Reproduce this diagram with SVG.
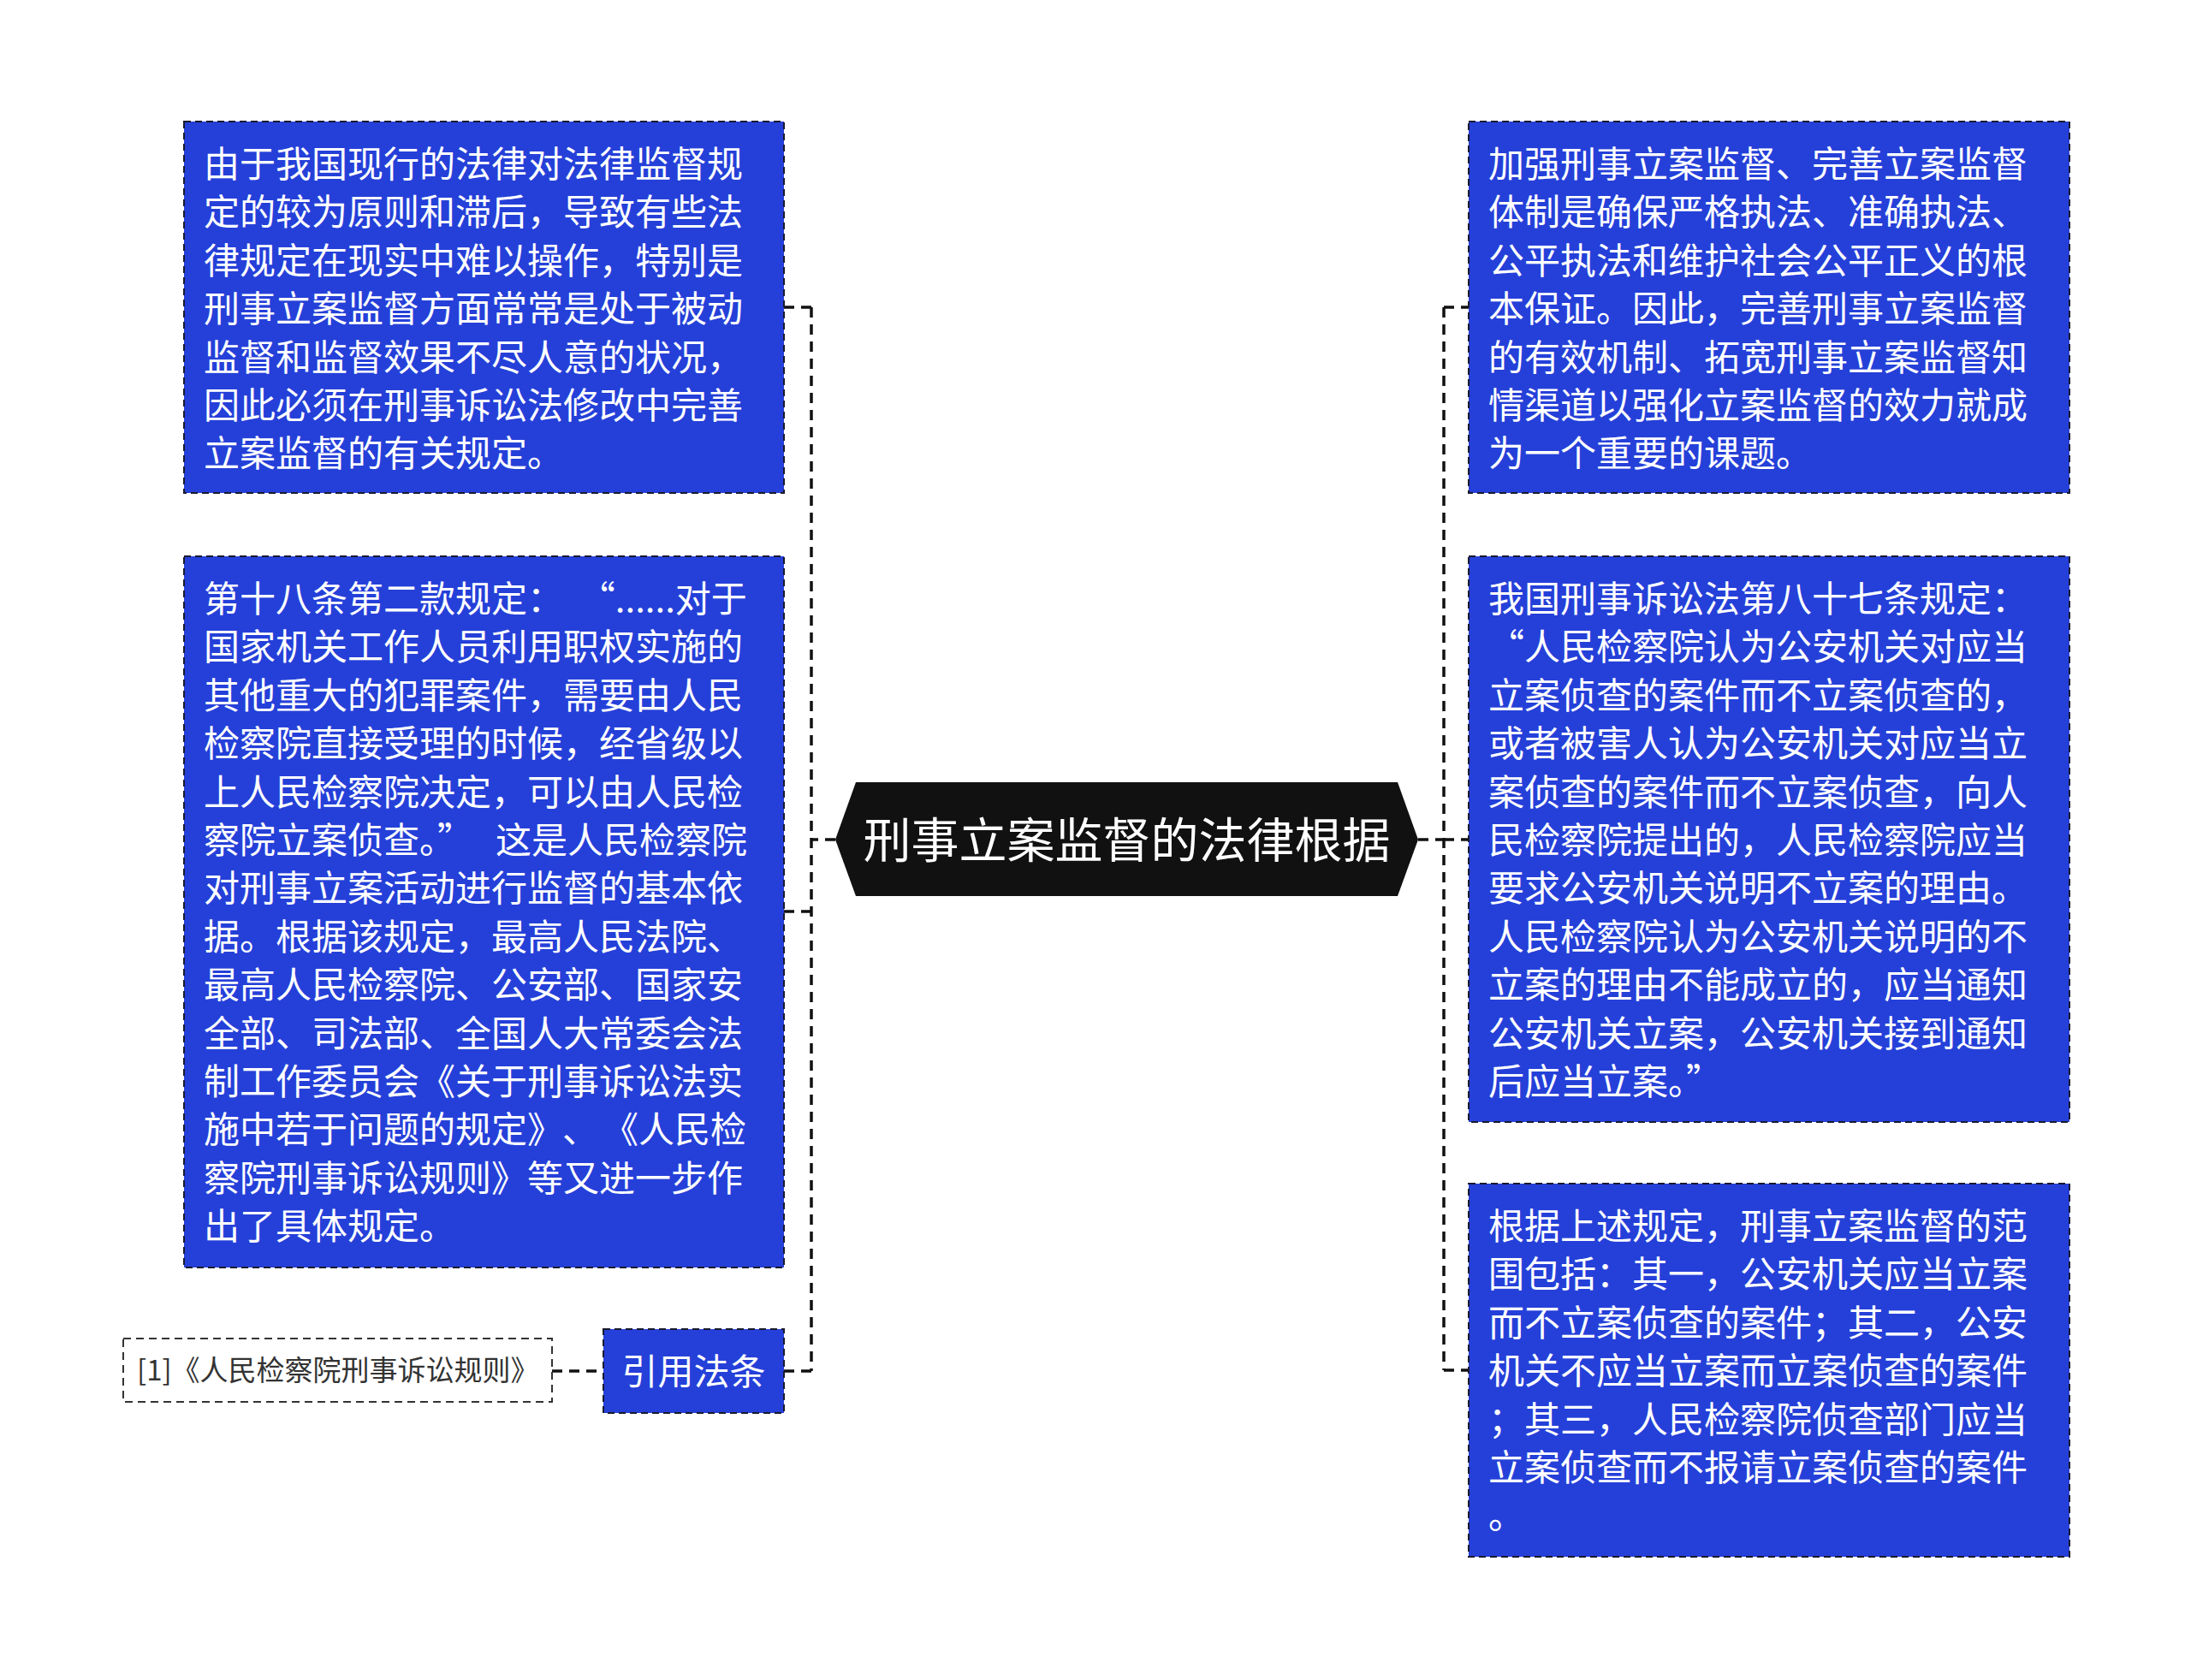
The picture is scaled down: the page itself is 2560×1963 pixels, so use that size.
<svg xmlns="http://www.w3.org/2000/svg" width="2560" height="1963" viewBox="0 0 2560 1963">
<style>
.box{fill:#2540d9;stroke:#1a1a2e;stroke-width:2;stroke-dasharray:8,5}
.plain{fill:#ffffff;stroke:#333333;stroke-width:2;stroke-dasharray:9,6}
.t{font-family:"Noto Sans CJK SC","Noto Sans",sans-serif;font-size:42px;fill:#ffffff}
.conn{fill:none;stroke:#111111;stroke-width:3.5;stroke-dasharray:12,8}
</style>
<rect width="2560" height="1963" fill="#ffffff"/>
<g id="connectors">
<path class="conn" d="M976,981 H948 M948,359 V1602 M916,359 H948 M916,1065 H948 M916,1602 H948"/>
<path class="conn" d="M1657,981 H1687 M1687,359 V1601 M1687,359 H1716 M1687,981 H1716 M1687,1601 H1716"/>
<path class="conn" d="M645,1602 H705"/>
</g>
<g id="center">
<polygon points="976,981 1000,914 1633,914 1657,981 1633,1047 1000,1047" fill="#111111"/>
<text x="1316.5" y="1002" text-anchor="middle" font-family="Noto Sans CJK SC, sans-serif" font-size="56" fill="#ffffff">刑事立案监督的法律根据</text>
</g>
<g id="left1">
<rect class="box" x="215" y="142" width="701" height="434"/>
<text class="t" x="238" y="207">
<tspan x="238" dy="0">由于我国现行的法律对法律监督规</tspan>
<tspan x="238" dy="56.4">定的较为原则和滞后，导致有些法</tspan>
<tspan x="238" dy="56.4">律规定在现实中难以操作，特别是</tspan>
<tspan x="238" dy="56.4">刑事立案监督方面常常是处于被动</tspan>
<tspan x="238" dy="56.4">监督和监督效果不尽人意的状况，</tspan>
<tspan x="238" dy="56.4">因此必须在刑事诉讼法修改中完善</tspan>
<tspan x="238" dy="56.4">立案监督的有关规定。</tspan>
</text>
</g>
<g id="left2">
<rect class="box" x="215" y="650" width="701" height="831"/>
<text class="t" x="238" y="715" xml:space="preserve"><tspan x="238" dy="0">第十八条第二款规定：  “......对于</tspan><tspan x="238" dy="56.4">国家机关工作人员利用职权实施的</tspan><tspan x="238" dy="56.4">其他重大的犯罪案件，需要由人民</tspan><tspan x="238" dy="56.4">检察院直接受理的时候，经省级以</tspan><tspan x="238" dy="56.4">上人民检察院决定，可以由人民检</tspan><tspan x="238" dy="56.4">察院立案侦查。”</tspan><tspan dx="26">这是人民检察院</tspan><tspan x="238" dy="56.4">对刑事立案活动进行监督的基本依</tspan><tspan x="238" dy="56.4">据。根据该规定，最高人民法院、</tspan><tspan x="238" dy="56.4">最高人民检察院、公安部、国家安</tspan><tspan x="238" dy="56.4">全部、司法部、全国人大常委会法</tspan><tspan x="238" dy="56.4">制工作委员会《关于刑事诉讼法实</tspan><tspan x="238" dy="56.4">施中若于问题的规定》</tspan><tspan dx="20">、</tspan><tspan dx="26">《人民检</tspan><tspan x="238" dy="56.4">察院刑事诉讼规则》等又进一步作</tspan><tspan x="238" dy="56.4">出了具体规定。</tspan></text>
</g>
<g id="cite">
<rect class="box" x="705" y="1553" width="211" height="98"/>
<text class="t" x="810.5" y="1618" text-anchor="middle">引用法条</text>
</g>
<g id="ref1">
<rect class="plain" x="144" y="1564" width="501" height="74"/>
<text x="160" y="1613" font-family="Noto Sans CJK SC, sans-serif" font-size="33" fill="#333333">[1]《人民检察院刑事诉讼规则》</text>
</g>
<g id="right1">
<rect class="box" x="1716" y="142" width="702" height="434"/>
<text class="t" x="1739" y="207">
<tspan x="1739" dy="0">加强刑事立案监督、完善立案监督</tspan>
<tspan x="1739" dy="56.4">体制是确保严格执法、准确执法、</tspan>
<tspan x="1739" dy="56.4">公平执法和维护社会公平正义的根</tspan>
<tspan x="1739" dy="56.4">本保证。因此，完善刑事立案监督</tspan>
<tspan x="1739" dy="56.4">的有效机制、拓宽刑事立案监督知</tspan>
<tspan x="1739" dy="56.4">情渠道以强化立案监督的效力就成</tspan>
<tspan x="1739" dy="56.4">为一个重要的课题。</tspan>
</text>
</g>
<g id="right2">
<rect class="box" x="1716" y="650" width="702" height="661"/>
<text class="t" x="1739" y="715">
<tspan x="1739" dy="0">我国刑事诉讼法第八十七条规定：</tspan>
<tspan x="1739" dy="56.4">“人民检察院认为公安机关对应当</tspan>
<tspan x="1739" dy="56.4">立案侦查的案件而不立案侦查的，</tspan>
<tspan x="1739" dy="56.4">或者被害人认为公安机关对应当立</tspan>
<tspan x="1739" dy="56.4">案侦查的案件而不立案侦查，向人</tspan>
<tspan x="1739" dy="56.4">民检察院提出的，人民检察院应当</tspan>
<tspan x="1739" dy="56.4">要求公安机关说明不立案的理由。</tspan>
<tspan x="1739" dy="56.4">人民检察院认为公安机关说明的不</tspan>
<tspan x="1739" dy="56.4">立案的理由不能成立的，应当通知</tspan>
<tspan x="1739" dy="56.4">公安机关立案，公安机关接到通知</tspan>
<tspan x="1739" dy="56.4">后应当立案。”</tspan>
</text>
</g>
<g id="right3">
<rect class="box" x="1716" y="1383" width="702" height="436"/>
<text class="t" x="1739" y="1448">
<tspan x="1739" dy="0">根据上述规定，刑事立案监督的范</tspan>
<tspan x="1739" dy="56.4">围包括：其一，公安机关应当立案</tspan>
<tspan x="1739" dy="56.4">而不立案侦查的案件；其二，公安</tspan>
<tspan x="1739" dy="56.4">机关不应当立案而立案侦查的案件</tspan>
<tspan x="1739" dy="56.4">；其三，人民检察院侦查部门应当</tspan>
<tspan x="1739" dy="56.4">立案侦查而不报请立案侦查的案件</tspan>
<tspan x="1739" dy="56.4">。</tspan>
</text>
</g>
</svg>
